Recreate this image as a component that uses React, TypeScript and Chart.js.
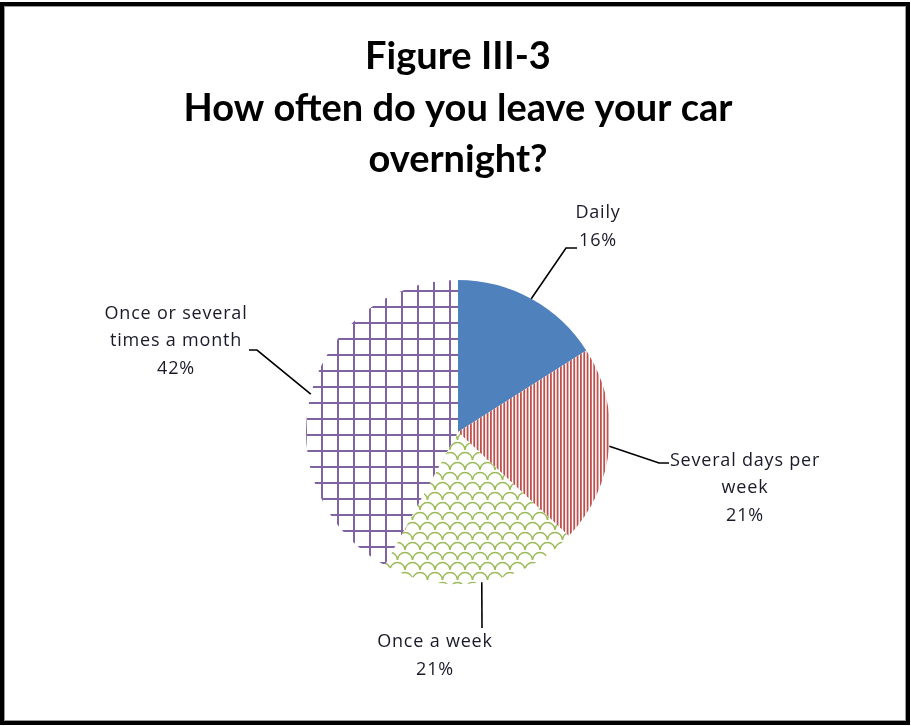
import React, { useEffect, useRef } from "react";
import { Chart, registerables } from "chart.js";

Chart.register(...registerables);

const categories = ["Daily", "Several days per week", "Once a week", "Once or several times a month"];
const values = [16, 21, 21, 42];
const labelLines = [
  ["Daily", "16%"],
  ["Several days per", "week", "21%"],
  ["Once a week", "21%"],
  ["Once or several", "times a month", "42%"],
];
const titleLines = ["Figure III-3", "How often do you leave your car", "overnight?"];

// label block centre offsets relative to pie centre, and leader end / elbow relative to block centre
const labelOffsets = [
  { dx: 140, dy: -205, end: [-21, 21], elbow: [-32, 21] },
  { dx: 287, dy: 56, end: [-76, -25], elbow: [-86, -25] },
  { dx: -23, dy: 224, end: [47, -28], elbow: null },
  { dx: -282, dy: -91, end: [73, 9], elbow: [81, 9] },
];

function makePattern(kind: string): CanvasPattern | string {
  const c = document.createElement("canvas");
  const g = c.getContext("2d")!;
  if (kind === "stripes") {
    c.width = 10; c.height = 4;
    g.fillStyle = "#ffffff"; g.fillRect(0, 0, 10, 4);
    g.fillStyle = "#C0504D";
    [0, 3.33, 6.67].forEach((x) => g.fillRect(x, 0, 1.8, 4));
  } else if (kind === "grid") {
    c.width = 16; c.height = 16;
    g.fillStyle = "#ffffff"; g.fillRect(0, 0, 16, 16);
    g.fillStyle = "#8064A2";
    g.fillRect(1, 0, 2, 16);
    g.fillRect(0, 2, 16, 2);
  } else {
    c.width = 15; c.height = 20;
    g.fillStyle = "#ffffff"; g.fillRect(0, 0, 15, 20);
    g.strokeStyle = "#9BBB59"; g.lineWidth = 1.4;
    const arc = (cx: number, cy: number) => {
      g.beginPath(); g.arc(cx, cy, 7.5, Math.PI, 2 * Math.PI); g.stroke();
    };
    arc(7.5, 10); arc(0, 20); arc(15, 20);
  }
  return g.createPattern(c, "repeat")!;
}

const labelPlugin = {
  id: "pieLabels",
  afterDatasetsDraw(chart: any) {
    const meta = chart.getDatasetMeta(0);
    const ctx = chart.ctx as any;
    ctx.save();
    meta.data.forEach((arc: any, i: number) => {
      const p = arc.getProps(["x", "y", "startAngle", "endAngle", "outerRadius"], true);
      const mid = (p.startAngle + p.endAngle) / 2;
      const ex = p.x + Math.cos(mid) * p.outerRadius;
      const ey = p.y + Math.sin(mid) * p.outerRadius;
      const o = labelOffsets[i];
      const bx = p.x + o.dx, by = p.y + o.dy;
      ctx.strokeStyle = "#000000";
      ctx.lineWidth = 1.6;
      ctx.beginPath();
      ctx.moveTo(ex, ey);
      if (o.elbow) {
        ctx.lineTo(bx + o.elbow[0], by + o.elbow[1]);
      }
      ctx.lineTo(bx + o.end[0], by + o.end[1]);
      ctx.stroke();
      const lines = labelLines[i];
      const lh = 27.5;
      ctx.fillStyle = "#1a1a2a";
      ctx.font = "18px 'Open Sans'";
      ctx.letterSpacing = "0.8px";
      ctx.textAlign = "center";
      ctx.textBaseline = "middle";
      lines.forEach((t: string, k: number) => {
        ctx.fillText(t, bx, by + (k - (lines.length - 1) / 2) * lh);
      });
    });
    ctx.restore();
  },
};

export default function App() {
  const ref = useRef<HTMLCanvasElement>(null);
  useEffect(() => {
    const chart = new Chart(ref.current!, {
      type: "pie",
      data: {
        labels: categories,
        datasets: [
          {
            data: values,
            backgroundColor: ["#4F81BD", makePattern("stripes"), makePattern("wave"), makePattern("grid")] as any,
            borderWidth: 0,
            radius: 152,
          } as any,
        ],
      },
      options: {
        animation: false,
        responsive: false,
        maintainAspectRatio: false,
        layout: { padding: { left: 5, right: 0, top: 0, bottom: 58 } },
        plugins: {
          legend: { display: false },
          tooltip: { enabled: false },
          title: {
            display: true,
            text: titleLines,
            color: "#000000",
            font: { family: "Lato", size: 38, weight: "bold", lineHeight: 1.36 },
            padding: { top: 31, bottom: 10 },
          },
        },
      },
      plugins: [labelPlugin],
    });
    return () => chart.destroy();
  }, []);
  return (
    <div style={{ position: "fixed", left: 0, top: 0, width: 911, height: 726, background: "#fff" }}>
      <canvas ref={ref} width={911} height={726} style={{ position: "absolute", left: 0, top: 0, width: 911, height: 726 }} />
      <div
        style={{
          position: "absolute",
          left: 0,
          top: 2,
          width: 910,
          height: 723,
          boxSizing: "border-box",
          border: "4px solid #000",
          boxShadow: "inset 0 0 0 1px #999",
          pointerEvents: "none",
        }}
      />
    </div>
  );
}
